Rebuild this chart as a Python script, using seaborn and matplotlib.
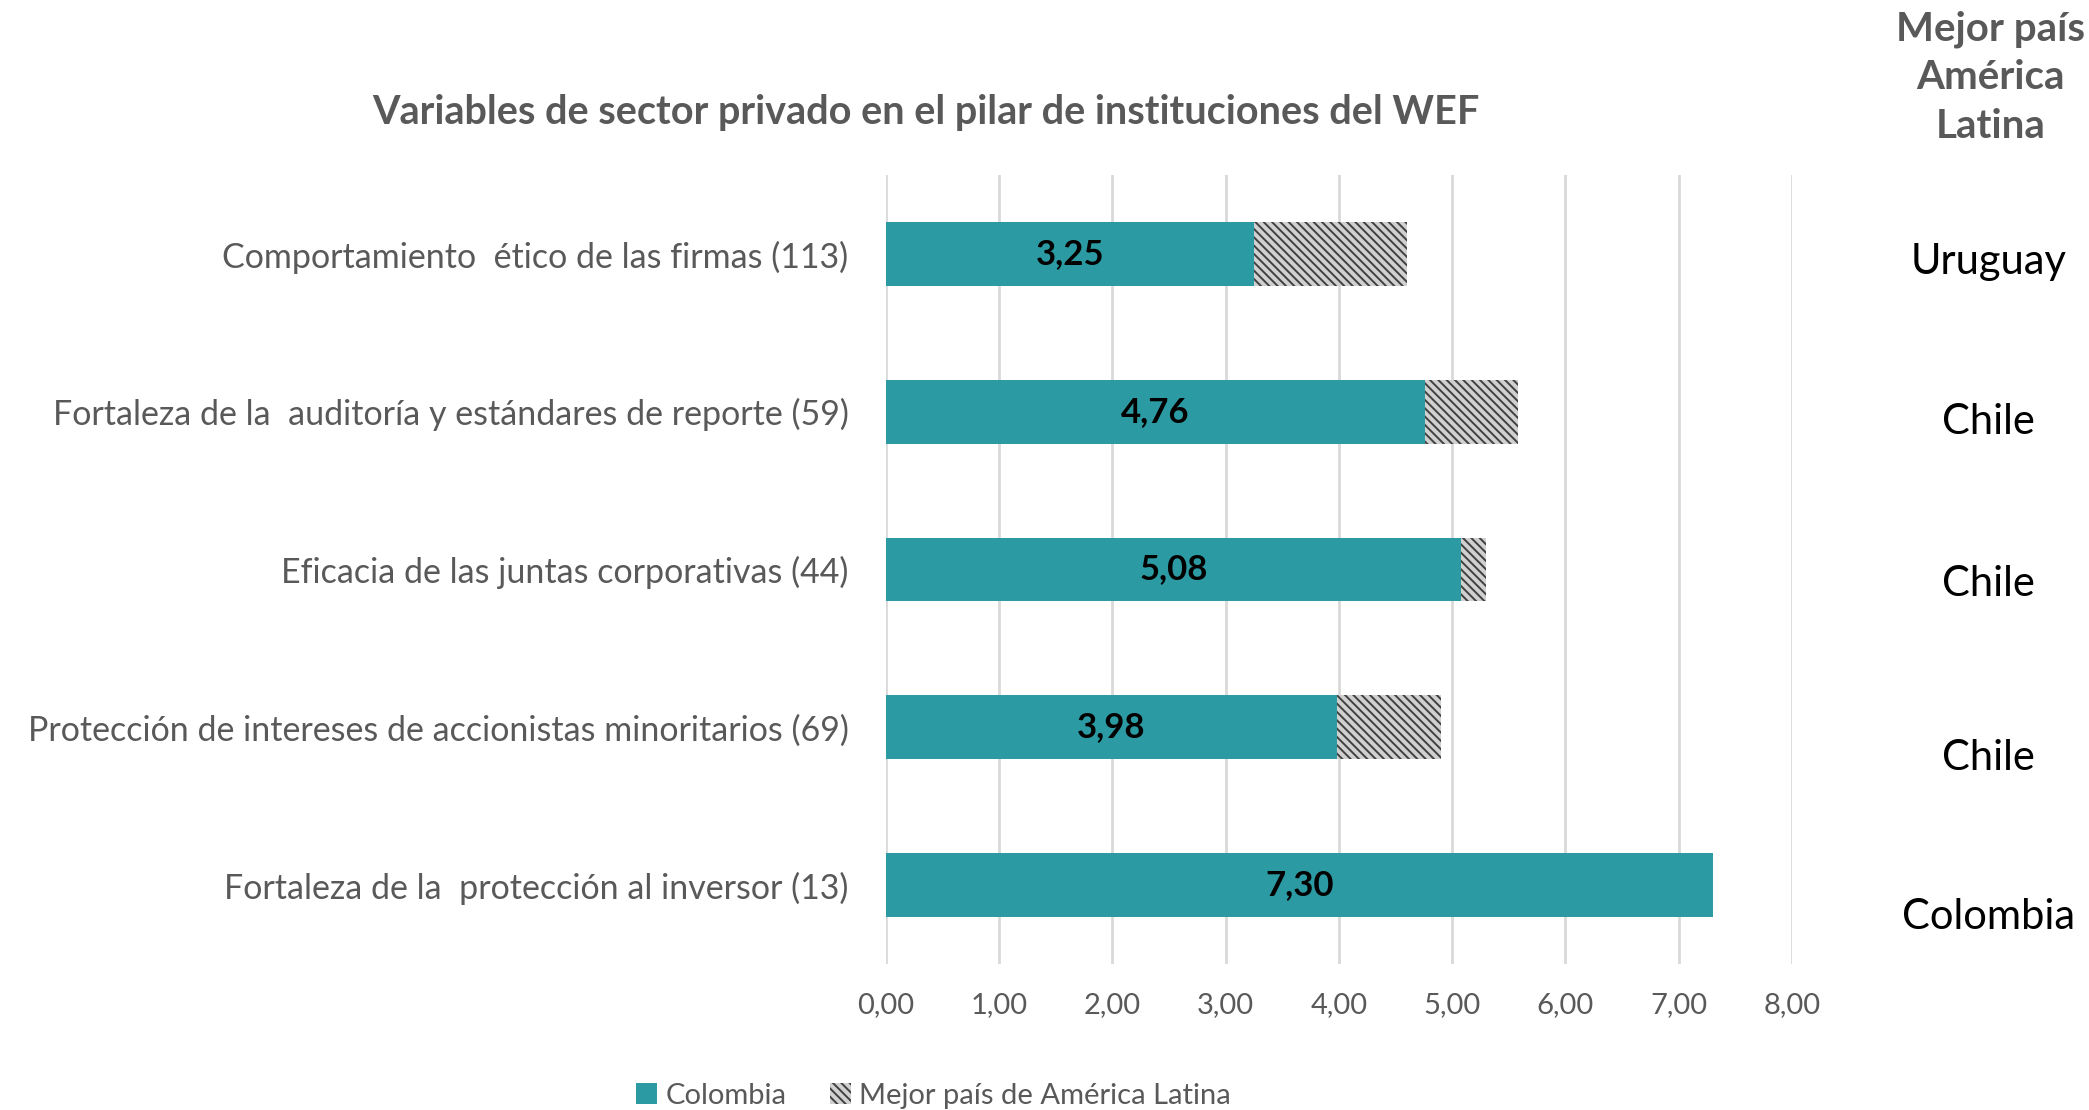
import matplotlib
matplotlib.use('Agg')
import matplotlib.pyplot as plt
import matplotlib.patches as mpatches
import numpy as np
import pandas as pd
import seaborn as sns

# Data
variables = ['Comportamiento  ético de las firmas (113)',
             'Fortaleza de la  auditoría y estándares de reporte (59)',
             'Eficacia de las juntas corporativas (44)',
             'Protección de intereses de accionistas minoritarios (69)',
             'Fortaleza de la  protección al inversor (13)']
colombia = [3.25, 4.76, 5.08, 3.98, 7.30]
mejor_pais = [4.60, 5.58, 5.30, 4.90, 7.30]
mejor_nombre = ['Uruguay', 'Chile', 'Chile', 'Chile', 'Colombia']
x_ticks = [0, 1, 2, 3, 4, 5, 6, 7, 8]

teal = '#2B9AA2'
gray_txt = '#595959'
hatch_bg = '#d0d0d0'
hatch_fg = '#404040'

sns.set_style('white')
plt.rcParams['font.family'] = ['Lato', 'DejaVu Sans']
plt.rcParams['hatch.linewidth'] = 1.4

data = pd.DataFrame({'variable': variables, 'colombia': colombia, 'mejor': mejor_pais})

fig = plt.figure(figsize=(20.89, 11.10), dpi=100)
ax = fig.add_axes([0.4241, 0.1315, 0.4337, 0.7108])

# best country of Latin America (hatched, behind)
sns.barplot(data=data, x='mejor', y='variable', orient='h', color=hatch_bg,
            width=0.405, ax=ax, saturation=1)
for p in ax.patches:
    p.set_hatch('\\\\\\\\')
    p.set_edgecolor(hatch_fg)
    p.set_linewidth(0)
n_best = len(ax.patches)

# Colombia on top
sns.barplot(data=data, x='colombia', y='variable', orient='h', color=teal,
            width=0.405, ax=ax, saturation=1)
for p in ax.patches[n_best:]:
    p.set_linewidth(0)

for i, v in enumerate(colombia):
    ax.text(v / 2, i, f'{v:.2f}'.replace('.', ','), ha='center', va='center',
            fontsize=25, fontweight='bold', color='black')

ax.set_xlim(0, 8)
ax.set_ylim(4.5, -0.5)
ax.set_xticks(x_ticks)
ax.set_xticklabels([f'{t:.2f}'.replace('.', ',') for t in x_ticks], fontsize=21, color=gray_txt)
ax.tick_params(axis='x', length=0, pad=20)
ax.tick_params(axis='y', length=0, pad=27, labelsize=24.5, labelcolor=gray_txt)
ax.set_xlabel('')
ax.set_ylabel('')
ax.grid(axis='x', color='#d9d9d9', linewidth=2)
ax.set_axisbelow(True)
for s in ax.spines.values():
    s.set_visible(False)

fig.text(0.443, 0.899, 'Variables de sector privado en el pilar de instituciones del WEF',
         ha='center', va='center', fontsize=28.5, fontweight='bold', color=gray_txt)

fig.text(0.953, 0.930, 'Mejor país\nAmérica\nLatina', ha='center', va='center',
         fontsize=29, fontweight='bold', color=gray_txt, linespacing=1.38)

country_y = [262, 422, 584, 758, 917]
for name, yy in zip(mejor_nombre, country_y):
    fig.text(0.952, 1 - yy / 1110, name, ha='center', va='center', fontsize=30, color='black')

handles = [mpatches.Patch(facecolor=teal, edgecolor=teal, linewidth=0, label='Colombia'),
           mpatches.Patch(facecolor=hatch_bg, edgecolor=hatch_fg, linewidth=0, hatch='\\\\\\\\',
                          label='Mejor país de América Latina')]
leg = fig.legend(handles=handles, loc='center', bbox_to_anchor=(0.447, 0.013), ncol=2,
                 frameon=False, fontsize=21, handlelength=0.7, handleheight=0.7,
                 columnspacing=1.5, handletextpad=0.3)
for t in leg.get_texts():
    t.set_color(gray_txt)

fig.savefig('out.png', dpi=100)
